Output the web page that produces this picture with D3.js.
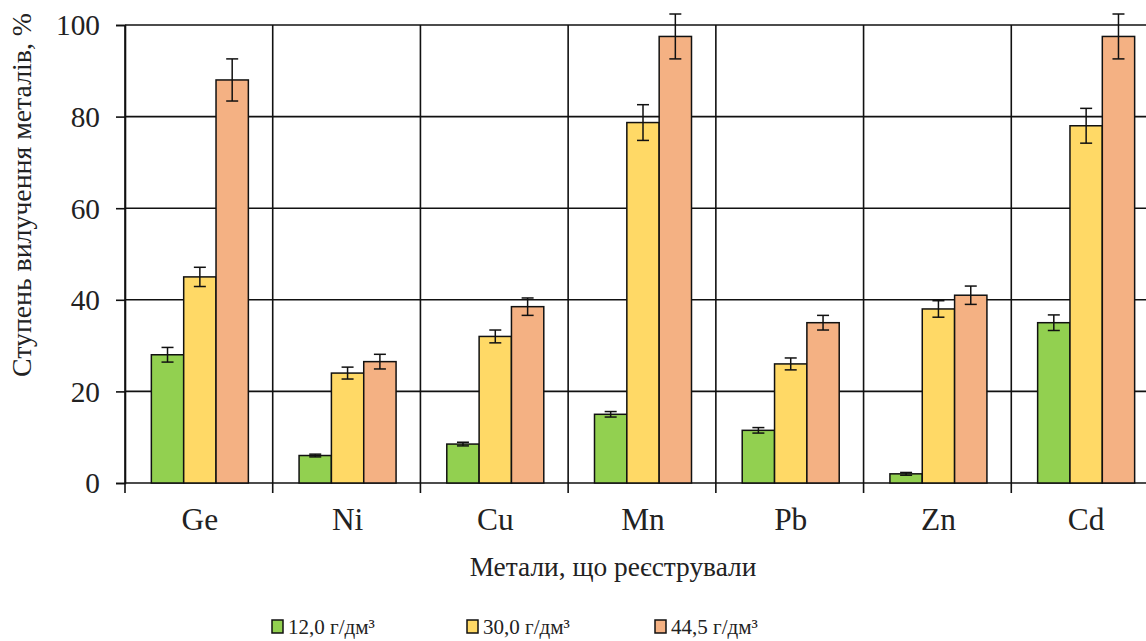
<!DOCTYPE html>
<html><head><meta charset="utf-8">
<script src="https://cdn.jsdelivr.net/npm/d3@7"></script>
</head><body>
<svg id="c" width="1146" height="641"></svg>
<script>
const categories = ["Ge","Ni","Cu","Mn","Pb","Zn","Cd"];
const seriesNames = ["12,0 г/дм³","30,0 г/дм³","44,5 г/дм³"];
const values12 = [28, 6, 8.5, 15, 11.5, 2, 35];
const values30 = [45, 24, 32, 78.7, 26, 38, 78];
const values44 = [88, 26.5, 38.5, 97.5, 35, 41, 97.5];
const err12 = [1.6, 0.3, 0.4, 0.6, 0.6, 0.3, 1.7];
const err30 = [2.1, 1.3, 1.4, 3.9, 1.3, 1.8, 3.8];
const err44 = [4.6, 1.6, 1.9, 4.9, 1.6, 2.0, 4.9];
const yTicks = [0,20,40,60,80,100];
const colors = ["#92d050","#ffd966","#f4b183"];

(function(){
d3.select("body").style("margin","0px");
d3.select("#c").style("display","block");
const FONT = "Liberation Serif";
const svg = d3.select("#c");
const L = 125, R = 1159, T = 25, B = 483;
const x = d3.scaleBand().domain(categories).range([L,R]).paddingInner(0).paddingOuter(0);
const y = d3.scaleLinear().domain([0,100]).range([B,T]);
const xs = d3.scaleBand().domain([0,1,2]).range([0,97]);
const groupOffset = (x.bandwidth()-97)/2 + 1;
const INK = "#111";

function txt(sel){ return sel.attr("font-family",FONT).style("font-family",FONT); }
function fitSize(sample, target){
  const t = txt(svg.append("text")).style("font-size","40px").text(sample);
  const w = t.node().getComputedTextLength(); t.remove();
  return 40*target/w;
}

const series = [values12, values30, values44];
const errs = [err12, err30, err44];

svg.append("g").selectAll("line").data(yTicks.filter(d=>d>0)).join("line")
  .attr("x1",L).attr("x2",R).attr("y1",d=>y(d)).attr("y2",d=>y(d))
  .attr("stroke",INK).attr("stroke-width",1.6);
const bounds = categories.map(c=>x(c)).concat([R]);
svg.append("g").selectAll("line").data(bounds).join("line")
  .attr("x1",d=>d).attr("x2",d=>d).attr("y1",T).attr("y2",B+10)
  .attr("stroke",INK).attr("stroke-width",1.6);

const tickFs = fitSize("100",44);
const ya = svg.append("g").attr("transform",`translate(${L},0)`)
  .call(d3.axisLeft(y).tickValues(yTicks).tickSize(9).tickPadding(16));
ya.attr("font-family",FONT).attr("font-size",tickFs);
ya.select(".domain").attr("stroke",INK).attr("stroke-width",1.6);
ya.selectAll(".tick line").attr("stroke",INK).attr("stroke-width",1.6);
txt(ya.selectAll("text")).style("font-size",tickFs+"px").attr("fill","#222").attr("dy","0.34em");
svg.append("line").attr("x1",L).attr("x2",R).attr("y1",B).attr("y2",B)
  .attr("stroke",INK).attr("stroke-width",1.6);

series.forEach((vals,si)=>{
  const g = svg.append("g");
  g.selectAll("rect").data(categories).join("rect")
    .attr("x",c=>x(c)+groupOffset+xs(si))
    .attr("width",xs.bandwidth())
    .attr("y",(c,i)=>y(vals[i]))
    .attr("height",(c,i)=>B-y(vals[i]))
    .attr("fill",colors[si]).attr("stroke",INK).attr("stroke-width",1.5);
  categories.forEach((c,i)=>{
    const cx = x(c)+groupOffset+xs(si)+xs.bandwidth()/2;
    const hi = y(vals[i]+errs[si][i]), lo = y(vals[i]-errs[si][i]);
    g.append("line").attr("x1",cx).attr("x2",cx).attr("y1",hi).attr("y2",lo).attr("stroke",INK).attr("stroke-width",1.5);
    [hi,lo].forEach(yy=>g.append("line").attr("x1",cx-6).attr("x2",cx+6).attr("y1",yy).attr("y2",yy).attr("stroke",INK).attr("stroke-width",1.5));
  });
});

const catFs = fitSize("Ge",36.6);
txt(svg.append("g").selectAll("text").data(categories).join("text"))
  .attr("x",c=>x(c)+x.bandwidth()/2+1).attr("y",530).attr("text-anchor","middle")
  .style("font-size",catFs+"px").attr("fill","#222").text(c=>c);

const xt = "Метали, що реєстрували";
txt(svg.append("text")).attr("x",613).attr("y",576).attr("text-anchor","middle")
  .style("font-size",fitSize(xt,287)+"px").attr("fill","#222").text(xt);
const yt = "Ступень вилучення металів, %";
txt(svg.append("text")).attr("transform","translate(31,195) rotate(-90)").attr("text-anchor","middle")
  .style("font-size",fitSize(yt,364)+"px").attr("fill","#222").text(yt);

const legX = [272, 467, 655];
const legFs = fitSize(seriesNames[0],87);
seriesNames.forEach((n,i)=>{
  svg.append("rect").attr("x",legX[i]).attr("y",620).attr("width",11).attr("height",13)
    .attr("fill",colors[i]).attr("stroke",INK).attr("stroke-width",1.5);
  txt(svg.append("text")).attr("x",legX[i]+16).attr("y",634)
    .style("font-size",legFs+"px").attr("fill","#222").text(n);
});
})();
</script>
</body></html>
